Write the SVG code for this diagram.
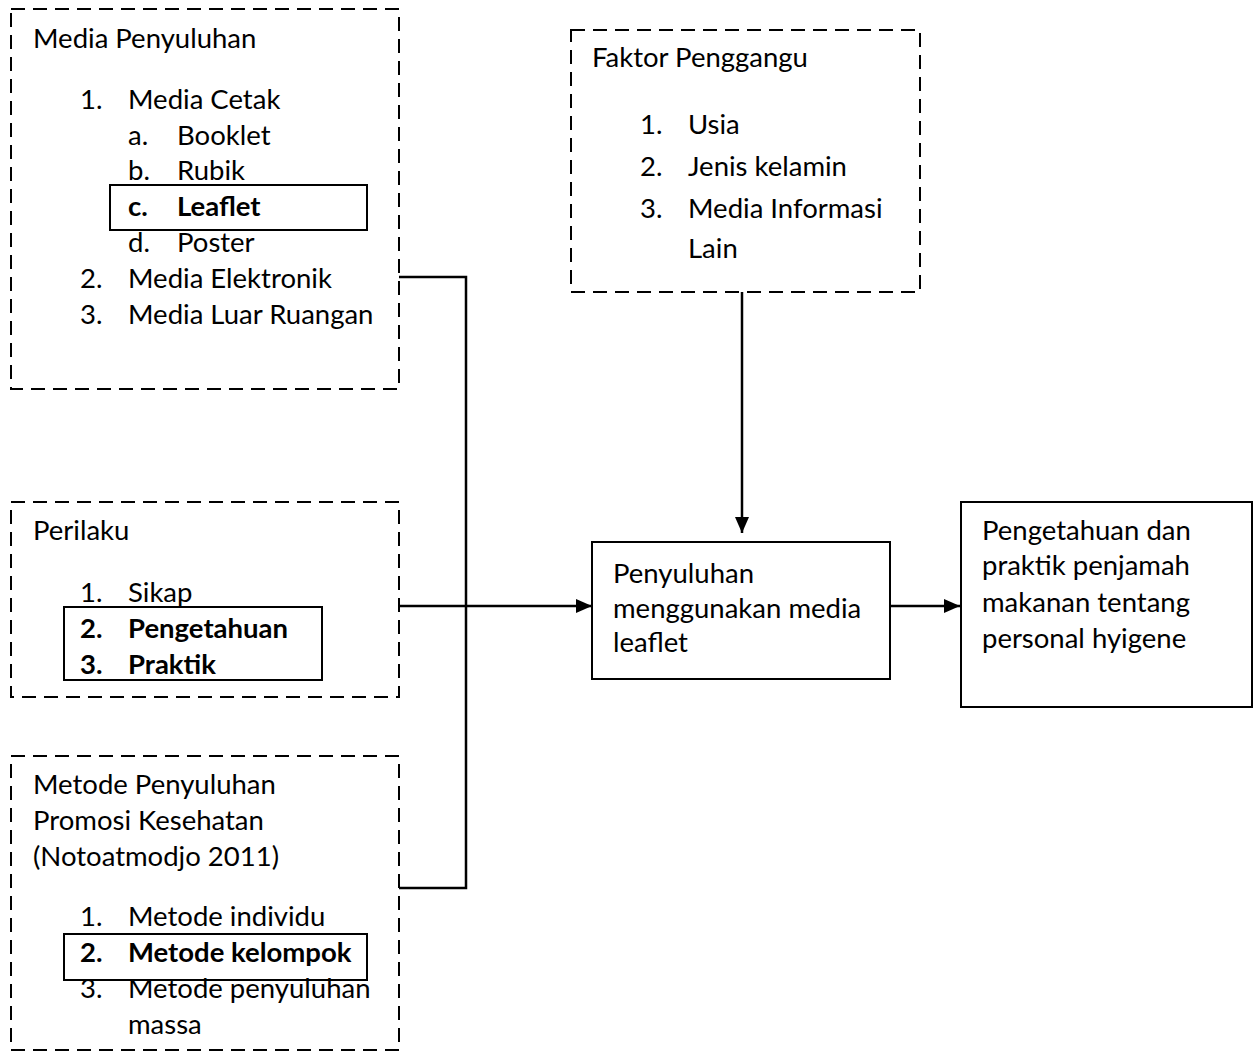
<svg xmlns="http://www.w3.org/2000/svg" width="1256" height="1052" viewBox="0 0 1256 1052">
<defs>
<style>
text{font-family:Lato,"Open Sans","Liberation Sans",sans-serif;font-size:27.5px;fill:#000}
.b{font-weight:bold}
.dash{fill:none;stroke:#000;stroke-width:2;stroke-dasharray:14,8}
.solid{fill:#fff;stroke:#000;stroke-width:2}
.hl{fill:none;stroke:#000;stroke-width:2}
.conn{fill:none;stroke:#000;stroke-width:2.5}
</style>
<marker id="ah" markerWidth="16" markerHeight="14" refX="16" refY="7" orient="auto" markerUnits="userSpaceOnUse" viewBox="0 0 16 14">
<path d="M0,0 L16,7 L0,14 z" fill="#000"/>
</marker>
</defs>
<rect width="1256" height="1052" fill="#fff"/>
<g id="connectors">
<polyline class="conn" points="399,277 466,277 466,888 399,888"/>
<line class="conn" x1="399" y1="606" x2="592" y2="606" marker-end="url(#ah)"/>
<line class="conn" x1="742" y1="292" x2="742" y2="533" marker-end="url(#ah)"/>
<line class="conn" x1="890" y1="606" x2="960" y2="606" marker-end="url(#ah)"/>
</g>
<g id="media-penyuluhan">
<rect class="dash" x="11" y="9" width="388" height="380"/>
<text x="33" y="48">Media Penyuluhan</text>
<text x="80" y="109">1.</text><text x="128" y="109">Media Cetak</text>
<text x="128" y="145">a.</text><text x="177" y="145">Booklet</text>
<text x="128" y="180">b.</text><text x="177" y="180">Rubik</text>
<rect class="hl" x="110" y="185" width="257" height="45"/>
<text class="b" x="128" y="216">c.</text><text class="b" x="177" y="216">Leaflet</text>
<text x="128" y="252">d.</text><text x="177" y="252">Poster</text>
<text x="80" y="288">2.</text><text x="128" y="288">Media Elektronik</text>
<text x="80" y="324">3.</text><text x="128" y="324">Media Luar Ruangan</text>
</g>
<g id="perilaku">
<rect class="dash" x="11" y="502" width="388" height="195"/>
<text x="33" y="540">Perilaku</text>
<text x="80" y="602">1.</text><text x="128" y="602">Sikap</text>
<rect class="hl" x="64" y="607" width="258" height="73"/>
<text class="b" x="80" y="638">2.</text><text class="b" x="128" y="638">Pengetahuan</text>
<text class="b" x="80" y="674">3.</text><text class="b" x="128" y="674">Praktik</text>
</g>
<g id="metode">
<rect class="dash" x="11" y="756" width="388" height="294"/>
<text x="33" y="794">Metode Penyuluhan</text>
<text x="33" y="830">Promosi Kesehatan</text>
<text x="33" y="866">(Notoatmodjo 2011)</text>
<text x="80" y="926">1.</text><text x="128" y="926">Metode individu</text>
<rect class="hl" x="64" y="934" width="303" height="46"/>
<text class="b" x="80" y="962">2.</text><text class="b" x="128" y="962">Metode kelompok</text>
<text x="80" y="998">3.</text><text x="128" y="998">Metode penyuluhan</text>
<text x="128" y="1034">massa</text>
</g>
<g id="faktor">
<rect class="dash" x="571" y="30" width="349" height="262"/>
<text x="592" y="67">Faktor Penggangu</text>
<text x="640" y="134">1.</text><text x="688" y="134">Usia</text>
<text x="640" y="176">2.</text><text x="688" y="176">Jenis kelamin</text>
<text x="640" y="218">3.</text><text x="688" y="218">Media Informasi</text>
<text x="688" y="258">Lain</text>
</g>
<g id="penyuluhan-leaflet">
<rect class="solid" x="592" y="542" width="298" height="137"/>
<text x="613" y="583">Penyuluhan</text>
<text x="613" y="618">menggunakan media</text>
<text x="613" y="652">leaflet</text>
</g>
<g id="hasil">
<rect class="solid" x="961" y="502" width="291" height="205"/>
<text x="982" y="540">Pengetahuan dan</text>
<text x="982" y="575">praktik penjamah</text>
<text x="982" y="612">makanan tentang</text>
<text x="982" y="648">personal hyigene</text>
</g>
</svg>
